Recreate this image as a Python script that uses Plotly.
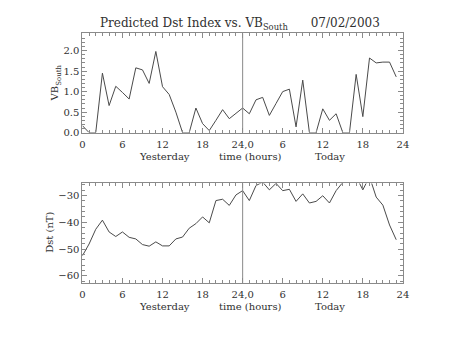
import plotly.graph_objects as go

# ---------------- data ----------------
hours = list(range(48))
vb_south = [0.17, 0.0, 0.0, 1.45, 0.66, 1.13, 0.98, 0.82, 1.58, 1.53,
            1.20, 1.98, 1.12, 0.93, 0.50, 0.0, 0.0, 0.60, 0.22, 0.05,
            0.30, 0.56, 0.34, 0.47, 0.60, 0.46, 0.80, 0.86, 0.42, 0.71,
            1.00, 1.06, 0.14, 1.28, 0.0, 0.0, 0.58, 0.30, 0.46, 0.0,
            0.0, 1.42, 0.39, 1.82, 1.70, 1.72, 1.72, 1.36]
dst = [-52.5, -48.1, -42.6, -39.2, -43.6, -45.3, -43.6, -45.6, -46.2, -48.3,
       -48.9, -47.3, -48.8, -48.8, -46.2, -45.5, -42.2, -40.5, -38.0, -40.2,
       -31.9, -31.4, -33.7, -29.8, -28.2, -31.9, -26.3, -25.0, -27.9, -25.5,
       -28.2, -27.7, -32.2, -29.4, -32.8, -32.2, -30.1, -32.8, -28.2, -25.0,
       -22.0, -23.0, -27.9, -23.0, -30.6, -33.6, -41.0, -46.5]
tick_vals = [0, 6, 12, 18, 24, 30, 36, 42, 48]
tick_text = ["0", "6", "12", "18", "24,0", "6", "12", "18", "24"]
day_boundary = 24
vb_ticks = [0.0, 0.5, 1.0, 1.5, 2.0]
dst_ticks = [-60, -50, -40, -30]

FONT = "DejaVu Serif"
LINE = "#4a4a4a"
AX = "#8a8a8a"
TXT = "#303030"
W, H = 453, 340

fig = go.Figure()
fig.add_trace(go.Scatter(x=hours, y=vb_south, mode="lines",
                         line=dict(color=LINE, width=1), xaxis="x", yaxis="y",
                         showlegend=False, hoverinfo="skip"))
fig.add_trace(go.Scatter(x=hours, y=dst, mode="lines",
                         line=dict(color=LINE, width=1), xaxis="x2", yaxis="y2",
                         showlegend=False, hoverinfo="skip"))

x0, x1 = 81 / W, 408 / W
top_dom = [1 - 135 / H, 1 - 34 / H]
bot_dom = [1 - 288 / H, 1 - 186.7 / H]

common_x = dict(range=[0, 48], tickvals=tick_vals, ticktext=tick_text,
                ticks="inside", ticklen=5, tickcolor=AX, showline=True,
                linecolor=AX, linewidth=1, mirror="allticks", showgrid=False,
                zeroline=False, tickfont=dict(family=FONT, size=10, color=TXT),
                ticklabelstandoff=2,
                minor=dict(ticks="inside", dtick=1, ticklen=2.5, tickcolor=AX),
                domain=[x0, x1], fixedrange=True)
common_y = dict(ticks="inside", ticklen=5, tickcolor=AX, showline=True,
                linecolor=AX, linewidth=1, mirror="allticks", showgrid=False,
                zeroline=False, tickfont=dict(family=FONT, size=10, color=TXT),
                fixedrange=True)

fig.update_layout(
    width=W, height=H, margin=dict(l=0, r=0, t=0, b=0),
    paper_bgcolor="white", plot_bgcolor="white",
    xaxis=dict(**common_x, anchor="y"),
    yaxis=dict(**common_y, domain=top_dom, range=[0, 2.42], tickvals=vb_ticks,
               ticktext=["0.0", "0.5", "1.0", "1.5", "2.0"],
               minor=dict(ticks="inside", dtick=0.1, ticklen=2.5, tickcolor=AX),
               anchor="x"),
    xaxis2=dict(**common_x, anchor="y2"),
    yaxis2=dict(**common_y, domain=bot_dom, range=[-62.6, -25.5], tickvals=dst_ticks,
                ticktext=["\u221260", "\u221250", "\u221240", "\u221230"],
                minor=dict(ticks="inside", dtick=2, ticklen=2.5, tickcolor=AX),
                anchor="x2"),
    showlegend=False,
)

for xa, ya in (("x", "y"), ("x2", "y2")):
    fig.add_shape(type="line", xref=xa, yref=f"{ya} domain",
                  x0=day_boundary, x1=day_boundary, y0=0, y1=1,
                  line=dict(color=AX, width=1))

def ann(text, x, y, size=10, angle=0):
    fig.add_annotation(text=text, xref="paper", yref="paper", x=x / W, y=1 - y / H,
                       showarrow=False, xanchor="center", yanchor="middle",
                       textangle=angle, font=dict(family=FONT, size=size, color=TXT))

ann("Predicted Dst Index vs. VB<sub>South</sub>      07/02/2003", 242, 24, size=12)
for yy in (159, 312):
    ann("Yesterday", 165, yy)
    ann("time (hours)", 253, yy)
    ann("Today", 334, yy)
ann("VB<sub>South</sub>", 54, 84, angle=-90)
ann("Dst (nT)", 48, 237, angle=-90)

fig.write_html("out.html")
